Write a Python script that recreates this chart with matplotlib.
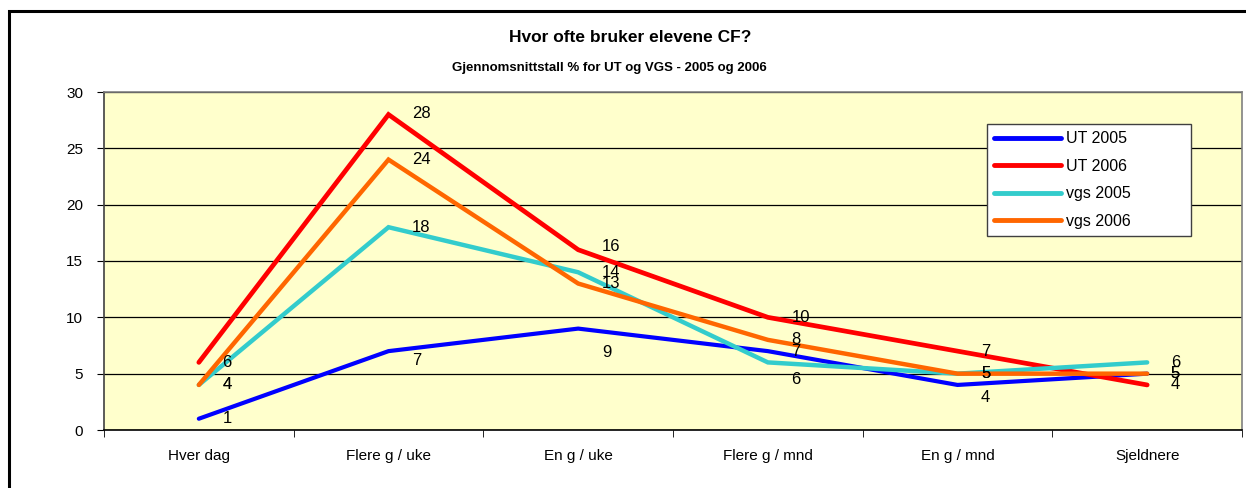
import matplotlib
matplotlib.use("Agg")
import matplotlib.pyplot as plt
from matplotlib.patches import Rectangle
import numpy as np

plt.rcParams['font.family'] = ['Liberation Sans', 'DejaVu Sans']

categories = ["Hver dag", "Flere g / uke", "En g / uke", "Flere g / mnd", "En g / mnd", "Sjeldnere"]
ut_2005 = [1, 7, 9, 7, 4, 5]
ut_2006 = [6, 28, 16, 10, 7, 4]
vgs_2005 = [4, 18, 14, 6, 5, 6]
vgs_2006 = [4, 24, 13, 8, 5, 5]
series_names = ["UT 2005", "UT 2006", "vgs 2005", "vgs 2006"]
yticks = [0, 5, 10, 15, 20, 25, 30]

title = "Hvor ofte bruker elevene CF?"
subtitle = "Gjennomsnittstall % for UT og VGS - 2005 og 2006"

colors = ["#0000FF", "#FF0000", "#33CCCC", "#FF6600"]
# vertical label nudges (points) per series, per category
label_dy = [
    [0, -7, -17, 0, -9, 0],
    [0, 1, 2, 0, 0, 0],
    [0, 0, 0, -12, 0, 0],
    [0, 0, 0, 0, 0, 0],
]

W, H = 1246, 488
fig = plt.figure(figsize=(W / 100, H / 100), dpi=100)
fig.patch.set_facecolor("white")

# outer frame
fig.patches.append(Rectangle((8.5 / W, -0.1), 1.2, 1.1 - 11 / H,
                             transform=fig.transFigure, fill=False,
                             edgecolor="black", linewidth=2.2))

ax = fig.add_axes([104 / W, 1 - 430 / H, (1242 - 104) / W, (430 - 92) / H])
ax.set_facecolor("#FFFFCC")

x = np.arange(len(categories))
data = [ut_2005, ut_2006, vgs_2005, vgs_2006]
lws = [3.0, 3.4, 3.2, 3.2]
for i, (vals, name, c) in enumerate(zip(data, series_names, colors)):
    ax.plot(x, vals, color=c, lw=lws[i], label=name, solid_capstyle="round",
            solid_joinstyle="miter", zorder=3)

for i, vals in enumerate(data):
    for j, v in enumerate(vals):
        ax.annotate(str(v), (x[j], v), xytext=(17, label_dy[i][j]),
                    textcoords="offset points", ha="left", va="center",
                    fontsize=12, color="black", zorder=5)

ax.set_xlim(-0.5, len(categories) - 0.5)
ax.set_ylim(0, 30)
ax.set_yticks(yticks)
ax.set_yticklabels([str(t) for t in yticks], fontsize=11)
ax.yaxis.grid(True, color="black", linewidth=0.9)
ax.set_axisbelow(True)

ax.set_xticks(x)
ax.set_xticklabels(categories, fontsize=11)
ax.set_xticks(np.arange(len(categories) + 1) - 0.5, minor=True)
ax.tick_params(axis="x", which="major", length=0, pad=14)
ax.tick_params(axis="x", which="minor", length=5, direction="out", color="black")
ax.tick_params(axis="y", length=5, direction="out", pad=10, color="black")

for s in ["top", "right"]:
    ax.spines[s].set_color("#808080")
    ax.spines[s].set_linewidth(1.2)
ax.spines["left"].set_color("#404040")
ax.spines["left"].set_linewidth(1.2)
ax.spines["bottom"].set_color("black")
ax.spines["bottom"].set_linewidth(1.2)

leg = ax.legend(loc="upper left", bbox_to_anchor=(0.776, 0.533, 0.179, 0.372),
                mode="expand", fontsize=11.5, frameon=True, fancybox=False,
                handlelength=4.2, handletextpad=0.3, labelspacing=0.78,
                borderpad=0.45, borderaxespad=0)
leg.get_frame().set_edgecolor("#404040")
leg.get_frame().set_linewidth(1.0)
leg.get_frame().set_facecolor("white")
leg.get_frame().set_alpha(1)
for h in leg.get_lines():
    h.set_linewidth(3.5)

fig.text(0.506, 1 - 38 / H, title, ha="center", va="center", fontsize=12.5,
         fontweight="bold")
fig.text(0.489, 1 - 68 / H, subtitle, ha="center", va="center", fontsize=9.5,
         fontweight="bold")

fig.savefig("out.png", dpi=100)
